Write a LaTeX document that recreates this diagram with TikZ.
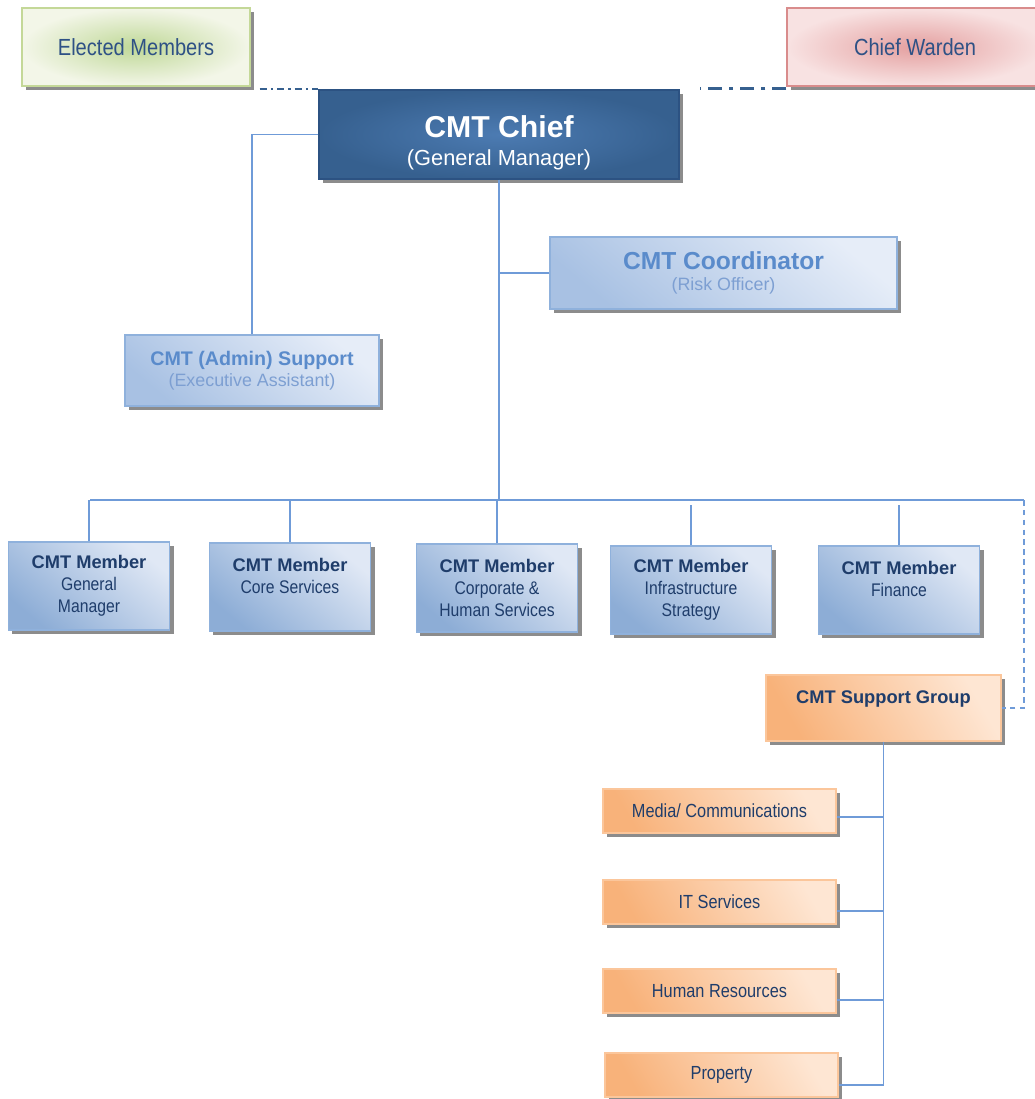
\documentclass[tikz,border=0pt]{standalone}
\usepackage{fontspec}
\setmainfont{Liberation Sans}
\newfontfamily\narrowf{Liberation Sans}[FakeStretch=0.86]
\usepackage{tikz}
\usetikzlibrary{shadows,calc}
\definecolor{titleblue}{HTML}{2E5185}
\definecolor{chiefblue}{HTML}{36608F}
\definecolor{chieflight}{HTML}{4C7BB2}
\definecolor{chiefedge}{HTML}{2C5282}
\definecolor{linkblue}{HTML}{6F9BD8}
\definecolor{shadowgray}{HTML}{8C8C8C}
\definecolor{greenedge}{HTML}{C4D898}
\definecolor{greenin}{HTML}{BFD897}
\definecolor{greenout}{HTML}{F3F6E8}
\definecolor{pinkedge}{HTML}{D98C8C}
\definecolor{pinkin}{HTML}{E4A0A0}
\definecolor{pinkout}{HTML}{F8E2E2}
\definecolor{paleedge}{HTML}{8FB1DC}
\definecolor{paledark}{HTML}{A8C1E3}
\definecolor{palelight}{HTML}{E6EDF8}
\definecolor{paletitle}{HTML}{5A8BCB}
\definecolor{palesub}{HTML}{7D9FD2}
\definecolor{memdark}{HTML}{8DADD6}
\definecolor{memlight}{HTML}{E0E8F5}
\definecolor{memtext}{HTML}{1F3D6B}
\definecolor{orgedge}{HTML}{FBC69B}
\definecolor{orgdark}{HTML}{F8B27A}
\definecolor{orglight}{HTML}{FEE6D3}
\tikzstyle{box}=[rectangle, align=center, inner sep=2pt, line width=0.8pt,% grey shadow below right
drop shadow={shadow xshift=0.1cm,shadow yshift=-0.1cm,fill=shadowgray,opacity=1}]
\tikzstyle{topbox}=[box, minimum width=5.7cm, minimum height=1.95cm, text=titleblue,
font=\narrowf\fontsize{16.6}{20}\selectfont]
\tikzstyle{chiefbox}=[box, draw=chiefedge, inner color=chieflight, outer color=chiefblue,
text=white, minimum width=9cm, minimum height=2.225cm, font=\fontsize{15.5}{20}\selectfont]
\tikzstyle{palebox}=[box, draw=paleedge, bottom color=paledark, top color=palelight,
shading angle=-40, text=palesub, font=\fontsize{12.7}{15}\selectfont]
\tikzstyle{member}=[box, draw=paleedge, bottom color=memdark, top color=memlight,
shading angle=-40, text=memtext, minimum width=4.025cm, minimum height=2.2cm,
font=\fontsize{13}{15.6}\selectfont]
\tikzstyle{orangebox}=[box, draw=orgedge, bottom color=orgdark, top color=orglight,
shading angle=-60, text=memtext]
\tikzstyle{sub}=[orangebox, minimum width=5.825cm, minimum height=1.1cm,
font=\narrowf\fontsize{13.5}{16}\selectfont]
\tikzstyle{link}=[draw=linkblue, line width=1pt]
\tikzstyle{dlink}=[link, dash pattern=on 4pt off 3pt]

\begin{document}
\begin{tikzpicture}[x=0.025cm, y=-0.025cm]
\useasboundingbox (0,0) rectangle (1034,1099);
% top row
\node[topbox, draw=greenedge, inner color=greenin, outer color=greenout] (elected) at (136,47) {Elected Members};
\node[topbox, draw=pinkedge, inner color=pinkin, outer color=pinkout, minimum width=6.4cm] (warden) at (915,47) {Chief Warden};
\node[chiefbox] (chief) at (499,134.5) {\rule{0pt}{27pt}{\fontsize{21.5}{20}\selectfont\bfseries CMT Chief}\\(General Manager)};
\node[palebox, minimum width=8.675cm, minimum height=1.8cm] (coord) at (723.5,273)
  {{\fontsize{17.5}{15}\selectfont\bfseries\color{paletitle}CMT Coordinator}\\(Risk Officer)};
\node[palebox, minimum width=6.35cm, minimum height=1.775cm] (admin) at (252,370.5)
  {{\fontsize{14}{15}\selectfont\bfseries\color{paletitle}CMT (Admin) Support}\\(Executive Assistant)};
% members
\node[member] (gm) at (89,586) {\textbf{CMT Member}\\{\narrowf General}\\{\narrowf Manager}};
\node[member] (core) at (290,587) {\textbf{CMT Member}\\{\narrowf Core Services}\\~};
\node[member] (corp) at (497,588) {\textbf{CMT Member}\\{\narrowf Corporate \&}\\{\narrowf Human Services}};
\node[member] (infra) at (691,590) {\textbf{CMT Member}\\{\narrowf Infrastructure}\\{\narrowf Strategy}};
\node[member] (fin) at (899,590) {\textbf{CMT Member}\\{\narrowf Finance}\\~};
% support group
\node[orangebox, minimum width=5.875cm, minimum height=1.65cm, text depth=0.55cm,
  font=\fontsize{13}{15}\selectfont\bfseries] (sgroup) at (883.5,708) {CMT Support Group};
\node[sub] (media) at (719.5,811) {Media/ Communications};
\node[sub] (its) at (719.5,902) {IT Services};
\node[sub] (hr) at (719.5,991) {Human Resources};
\node[sub] (prop) at (721.5,1075) {Property};
\coordinate (busl) at (90,500);
\coordinate (busr) at (1024,500);
\coordinate (tiel) at ($(elected.south east)+(9,2)$);
\coordinate (tier) at ($(warden.south west)+(0,2)$);
% dash dot ties
\draw [draw=chiefblue, line width=1.5pt, dash pattern=on 5pt off 3pt on 1.5pt off 3pt]
  (tiel) -- (tiel -| chief.west);
\draw [draw=chiefblue, line width=2.2pt, dash pattern=on 10pt off 5pt on 3pt off 5pt, shorten >=0.5cm]
  (tier) -- (tier -| chief.east);
% connectors
\draw [link] (chief.west) -| (admin.north);
\draw [link] (chief.south) -- (chief.south |- busl);
\draw [link] (coord.west) -- (coord.west -| chief.south);
\draw [link] (busl) -- (busr);
\draw [link] (gm.north) -- (gm.north |- busl);
\draw [link] (core.north) -- (core.north |- busl);
\draw [link] (corp.north) -- (corp.north |- busl);
\draw [link] (infra.north) -- ($(infra.north |- busl)+(0,5)$);
\draw [link] (fin.north) -- ($(fin.north |- busl)+(0,5)$);
\draw [dlink] (busr) |- (sgroup.east);
\draw [link] (sgroup.south) -- ($(sgroup.south |- prop.east)+(0,10)$);
\draw [link] ($(media.east)+(0,6)$) -- ($(media.east -| sgroup.south)+(0,6)$);
\draw [link] ($(its.east)+(0,9)$) -- ($(its.east -| sgroup.south)+(0,9)$);
\draw [link] ($(hr.east)+(0,9)$) -- ($(hr.east -| sgroup.south)+(0,9)$);
\draw [link] ($(prop.east)+(0,10)$) -- ($(prop.east -| sgroup.south)+(0,10)$);
\end{tikzpicture}
\end{document}
